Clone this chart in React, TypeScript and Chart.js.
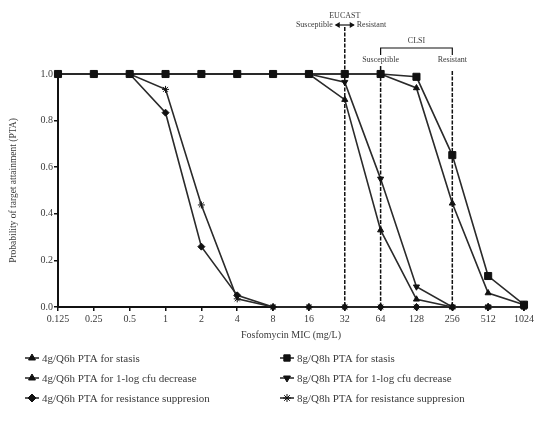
import React, { useEffect, useRef } from "react";
import { Chart, registerables } from "chart.js";
import { drawPoint } from "chart.js/helpers";

Chart.register(...registerables);

const micLabels = ["0.125", "0.25", "0.5", "1", "2", "4", "8", "16", "32", "64", "128", "256", "512", "1024"];
const yTicks = [0, 0.2, 0.4, 0.6, 0.8, 1.0];

const q6hStasis = [1, 1, 1, 1, 1, 1, 1, 1, 1, 1, 0.94, 0.445, 0.06, 0.01];
const q8hStasis = [1, 1, 1, 1, 1, 1, 1, 1, 1, 1, 0.988, 0.652, 0.133, 0.01];
const q6hOneLog = [1, 1, 1, 1, 1, 1, 1, 1, 0.89, 0.33, 0.033, 0, 0, 0];
const q8hOneLog = [1, 1, 1, 1, 1, 1, 1, 1, 0.965, 0.55, 0.087, 0, 0, 0];
const q6hResist = [1, 1, 1, 0.834, 0.259, 0.05, 0, 0, 0, 0, 0, 0, 0, 0];
const q8hResist = [1, 1, 1, 0.934, 0.438, 0.035, 0, 0, 0, 0, 0, 0, 0, 0];

const seriesLabels = [
  "4g/Q6h PTA for stasis",
  "8g/Q8h PTA for stasis",
  "4g/Q6h PTA for 1-log cfu decrease",
  "8g/Q8h PTA for 1-log cfu decrease",
  "4g/Q6h PTA for resistance suppresion",
  "8g/Q8h PTA for resistance suppresion",
];
const seriesData = [q6hStasis, q8hStasis, q6hOneLog, q8hOneLog, q6hResist, q8hResist];
const seriesMarkers = ["triangle", "rect", "triangle", "triangle", "rectRot", "star"];
const seriesRotation = [0, 0, 0, 180, 0, 0];
const seriesRadius = [3.5, 5, 3.5, 3.5, 3.5, 3.5];
const seriesOrder = [1, 0, 1, 1, 1, 1];

const eucastBreakpoint = "32";
const clsiSusceptible = "64";
const clsiResistant = "256";

const SERIF = "'Liberation Serif', 'DejaVu Serif', serif";
const TEXT = "#3a3a3a";

const annotationPlugin = {
  id: "breakpoints",
  beforeDatasetsDraw(chart: any) {
    const ctx = chart.ctx;
    const x = chart.scales.x;
    const bottom = chart.chartArea.bottom;
    const xe = x.getPixelForValue(micLabels.indexOf(eucastBreakpoint));
    const xs = x.getPixelForValue(micLabels.indexOf(clsiSusceptible));
    const xr = x.getPixelForValue(micLabels.indexOf(clsiResistant));
    ctx.save();
    ctx.strokeStyle = "#111";
    ctx.lineWidth = 1.5;
    ctx.setLineDash([4, 1.5]);
    const vline = (px: number, y0: number) => {
      ctx.beginPath();
      ctx.moveTo(px, y0);
      ctx.lineTo(px, bottom);
      ctx.stroke();
    };
    vline(xe, 27);
    vline(xs, 66);
    vline(xr, 71);
    ctx.setLineDash([]);
    ctx.lineWidth = 1.2;
    ctx.beginPath();
    ctx.moveTo(xe - 9, 25);
    ctx.lineTo(xe + 9, 25);
    ctx.stroke();
    ctx.fillStyle = "#111";
    ctx.beginPath();
    ctx.moveTo(xe - 10, 25);
    ctx.lineTo(xe - 5, 22);
    ctx.lineTo(xe - 5, 28);
    ctx.closePath();
    ctx.fill();
    ctx.beginPath();
    ctx.moveTo(xe + 10, 25);
    ctx.lineTo(xe + 5, 22);
    ctx.lineTo(xe + 5, 28);
    ctx.closePath();
    ctx.fill();
    ctx.lineWidth = 1.2;
    ctx.beginPath();
    ctx.moveTo(xs, 55);
    ctx.lineTo(xs, 48);
    ctx.lineTo(xr, 48);
    ctx.lineTo(xr, 55);
    ctx.stroke();
    ctx.fillStyle = TEXT;
    ctx.font = "8px " + SERIF;
    ctx.textBaseline = "middle";
    ctx.textAlign = "center";
    ctx.fillText("EUCAST", xe, 16);
    ctx.fillText("CLSI", (xs + xr) / 2, 41);
    ctx.fillText("Susceptible", xs, 60);
    ctx.fillText("Resistant", xr, 60);
    ctx.textAlign = "right";
    ctx.fillText("Susceptible", xe - 12, 25);
    ctx.textAlign = "left";
    ctx.fillText("Resistant", xe + 12, 25);
    ctx.restore();
  },
};

const legendPlugin = {
  id: "customLegend",
  afterDraw(chart: any) {
    const ctx = chart.ctx;
    const colX = [25, 280];
    const rowY = [358, 378, 398];
    ctx.save();
    seriesLabels.forEach((label, i) => {
      const cx = colX[i % 2];
      const cy = rowY[Math.floor(i / 2)];
      ctx.strokeStyle = "#222";
      ctx.lineWidth = 1.5;
      ctx.beginPath();
      ctx.moveTo(cx, cy);
      ctx.lineTo(cx + 14, cy);
      ctx.stroke();
      ctx.fillStyle = "#111";
      ctx.strokeStyle = "#111";
      ctx.lineWidth = 1;
      const r = seriesMarkers[i] === "rect" ? 4.5 : 4;
      drawPoint(ctx, { pointStyle: seriesMarkers[i], radius: r, rotation: seriesRotation[i], borderWidth: 1 } as any, cx + 7, cy);
      ctx.fillStyle = TEXT;
      ctx.font = "11px " + SERIF;
      ctx.textAlign = "left";
      ctx.textBaseline = "middle";
      ctx.fillText(label, cx + 17, cy + 1);
    });
    ctx.restore();
  },
};

export default function App() {
  const ref = useRef<HTMLCanvasElement>(null);
  useEffect(() => {
    if (!ref.current) return;
    const chart = new Chart(ref.current, {
      type: "line",
      data: {
        labels: micLabels,
        datasets: seriesData.map((d, i) => ({
          label: seriesLabels[i],
          data: d,
          order: seriesOrder[i],
          borderColor: "#2a2a2a",
          borderWidth: 1.6,
          backgroundColor: "#111",
          pointBackgroundColor: "#111",
          pointBorderColor: "#111",
          pointStyle: seriesMarkers[i] as any,
          pointRotation: seriesRotation[i],
          pointRadius: seriesRadius[i],
          pointBorderWidth: 1,
          tension: 0,
          clip: false as any,
        })),
      },
      options: {
        animation: false,
        responsive: false,
        events: [],
        layout: { padding: { left: 0, top: 74, right: 13, bottom: 93 } },
        plugins: { legend: { display: false }, tooltip: { enabled: false } },
        scales: {
          x: {
            type: "category",
            offset: false,
            afterFit: (s: any) => { s.height = 34; },
            grid: { display: true, drawOnChartArea: false, tickLength: 4, color: "#111", lineWidth: 1.5 },
            border: { display: true, color: "#111", width: 2 },
            ticks: { color: TEXT, font: { family: SERIF, size: 10 }, padding: 2, maxRotation: 0, autoSkip: false },
            title: { display: true, text: "Fosfomycin MIC (mg/L)", color: TEXT, font: { family: SERIF, size: 10 }, padding: { top: 2, bottom: 0 } },
          },
          y: {
            min: 0,
            max: 1,
            afterFit: (s: any) => { s.width = 58; },
            afterBuildTicks: (s: any) => { s.ticks = yTicks.map((v) => ({ value: v })); },
            grid: { display: true, drawOnChartArea: false, tickLength: 4, color: "#111", lineWidth: 1.5 },
            border: { display: true, color: "#111", width: 2 },
            ticks: { color: TEXT, font: { family: SERIF, size: 10 }, padding: 1, callback: (v: any) => Number(v).toFixed(1) },
            title: { display: true, text: "Probability of target attainment (PTA)", color: TEXT, font: { family: SERIF, size: 9.5 }, padding: { top: 8, bottom: 0 } },
          },
        },
      },
      plugins: [annotationPlugin, legendPlugin],
    });
    return () => chart.destroy();
  }, []);
  return (
    <div style={{ position: "absolute", left: 0, top: 0, width: 537, height: 434, background: "#fff" }}>
      <canvas ref={ref} width={537} height={434} style={{ width: 537, height: 434, display: "block" }} />
    </div>
  );
}
